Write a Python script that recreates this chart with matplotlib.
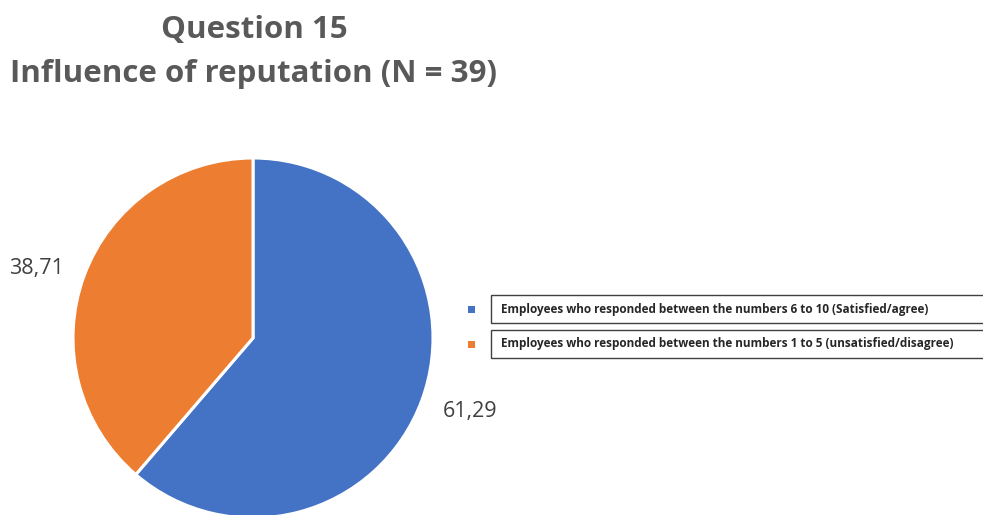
import matplotlib
matplotlib.use("Agg")
import matplotlib.pyplot as plt
from matplotlib.patches import Rectangle

categories = ["Employees who responded between the numbers 6 to 10 (Satisfied/agree)",
              "Employees who responded between the numbers 1 to 5 (unsatisfied/disagree)"]
values = [61.29, 38.71]
value_labels = ["61,29", "38,71"]
colors = ["#4472C4", "#ED7D31"]
title_lines = ["Question 15", "Influence of reputation (N = 39)"]

W, H = 983, 515
fig = plt.figure(figsize=(W / 100, H / 100), dpi=100)
fig.patch.set_facecolor("white")

# pie axes: center ~(253,338) px, radius 180 px
cx, cy, r = 253, 338, 180
ax = fig.add_axes([(cx - r) / W, (H - cy - r) / H, 2 * r / W, 2 * r / H])
wedges, texts = ax.pie(values, labels=value_labels, colors=colors, startangle=90,
                       counterclock=False, labeldistance=1.23,
                       wedgeprops=dict(edgecolor="white", linewidth=2.2),
                       textprops=dict(fontsize=15.5, color="#404040", family="Open Sans"))
for t, yf in zip(texts, [0.96, 0.9]):
    t.set_ha("center")
    x, y = t.get_position()
    t.set_position((x * 1.045, y * yf))
ax.set_xlim(-1, 1)
ax.set_ylim(-1, 1)
ax.set_aspect("equal")
ax.axis("off")

fig.text(254 / W, 1 - 30 / H, title_lines[0], ha="center", va="center",
         fontsize=22.5, fontweight="bold", color="#595959", family="Open Sans")
fig.text(254 / W, 1 - 74 / H, title_lines[1], ha="center", va="center",
         fontsize=22.5, fontweight="bold", color="#595959", family="Open Sans")

# legend
ys = [309, 344]
for cat, col, y in zip(categories, colors, ys):
    fig.patches.append(Rectangle((468 / W, 1 - (y + 4) / H), 7 / W, 7 / H,
                                 transform=fig.transFigure, facecolor=col, edgecolor="none"))
    fig.patches.append(Rectangle((491 / W, 1 - (y + 14) / H), 500 / W, 28 / H,
                                 transform=fig.transFigure, facecolor="white",
                                 edgecolor="#404040", linewidth=1.0))
    fig.text(501 / W, 1 - y / H, cat, ha="left", va="center", fontsize=8.5,
             fontweight="bold", color="#262626", family="Open Sans")

fig.savefig("out.png", dpi=100, facecolor="white")
